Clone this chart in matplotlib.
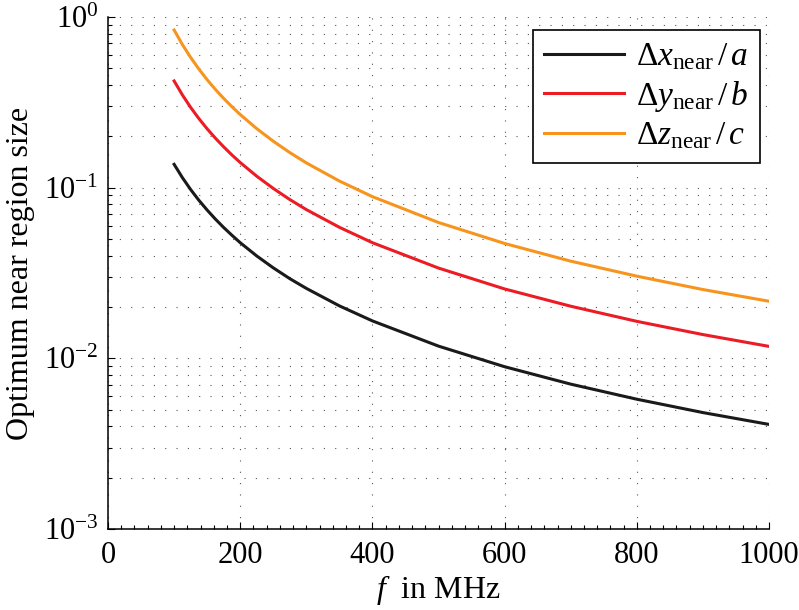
import numpy as np
import matplotlib
matplotlib.use('Agg')
import matplotlib.pyplot as plt
from matplotlib.ticker import MultipleLocator, LogLocator, NullFormatter

plt.rcParams['font.family'] = 'Liberation Serif'
plt.rcParams['mathtext.fontset'] = 'custom'
plt.rcParams['mathtext.rm'] = 'Liberation Serif'
plt.rcParams['mathtext.it'] = 'Liberation Serif:italic'
plt.rcParams['mathtext.bf'] = 'Liberation Serif:bold'

# frequency in MHz and optimum near region sizes (normalized)
freq = [100, 112.5, 125, 137.5, 150, 162.5, 175, 187.5, 200, 225, 250, 275, 300,
        350, 400, 500, 600, 700, 800, 900, 1000]
dx_a = [0.137, 0.1145, 0.0975, 0.0843, 0.0739, 0.0654, 0.0584, 0.0526, 0.0476,
        0.0398, 0.0339, 0.0293, 0.0257, 0.0203, 0.01657, 0.01179, 0.00893,
        0.00706, 0.00576, 0.00481, 0.0041]
dy_b = [0.422, 0.3495, 0.2953, 0.2539, 0.2211, 0.1949, 0.1734, 0.1554, 0.1404,
        0.1167, 0.0990, 0.0852, 0.0744, 0.0586, 0.0476, 0.0338, 0.0255,
        0.0202, 0.01647, 0.01378, 0.01175]
dz_c = [0.839, 0.6898, 0.5793, 0.4950, 0.4290, 0.3762, 0.3333, 0.2979, 0.2683,
        0.2217, 0.1872, 0.1606, 0.1397, 0.1094, 0.0886, 0.0625, 0.0471,
        0.0371, 0.0303, 0.0253, 0.0216]
labels = [r'$\Delta x_{\mathrm{near}}\,/\,a$',
          r'$\Delta y_{\mathrm{near}}\,/\,b$',
          r'$\Delta z_{\mathrm{near}}\,/\,c$']
colors = ['#1a1a1a', '#ec1c24', '#f7941d']

fig = plt.figure(figsize=(7.99, 6.10), dpi=100)
ax = fig.add_axes([0.1352, 0.1328, 0.8273, 0.8393])

for y, lab, c in zip([dx_a, dy_b, dz_c], labels, colors):
    ax.plot(freq, y, color=c, lw=2.2, label=lab)

ax.set_yscale('log')
ax.set_xlim(0, 1000)
ax.set_ylim(1e-3, 1)
ax.xaxis.set_major_locator(MultipleLocator(200))
ax.xaxis.set_minor_locator(MultipleLocator(20))
ax.yaxis.set_major_locator(LogLocator(base=10, numticks=10))
ax.yaxis.set_minor_locator(LogLocator(base=10, subs=np.arange(2, 10), numticks=20))
ax.yaxis.set_minor_formatter(NullFormatter())

dots = dict(color='#555555', lw=0.8, linestyle=(0, (1, 9.2)))
ax.grid(True, which='major', axis='both', **dots)
ax.grid(True, which='minor', axis='y', **dots)

ax.spines['top'].set_visible(False)
ax.spines['right'].set_visible(False)
ax.spines['left'].set_linewidth(1.1)
ax.spines['bottom'].set_linewidth(1.1)
ax.tick_params(which='both', direction='in', labelsize=22, width=0.8)
ax.tick_params(which='major', length=5)
ax.tick_params(which='minor', length=3)
ax.tick_params(axis='x', pad=9)
ax.tick_params(axis='y', pad=7)

ax.set_xlabel(r'$f$  in MHz', fontsize=23, labelpad=2)
ax.set_ylabel('Optimum near region size', fontsize=23, labelpad=6)

leg = ax.legend(loc='upper right', fontsize=24, handlelength=2.4, handletextpad=0.35,
                fancybox=False, framealpha=1, edgecolor='black', borderpad=0.35,
                labelspacing=0.2, borderaxespad=0,
                bbox_to_anchor=(0.9864, 0.9746))
leg.get_frame().set_linewidth(1.2)

fig.savefig('out.png', dpi=100)
